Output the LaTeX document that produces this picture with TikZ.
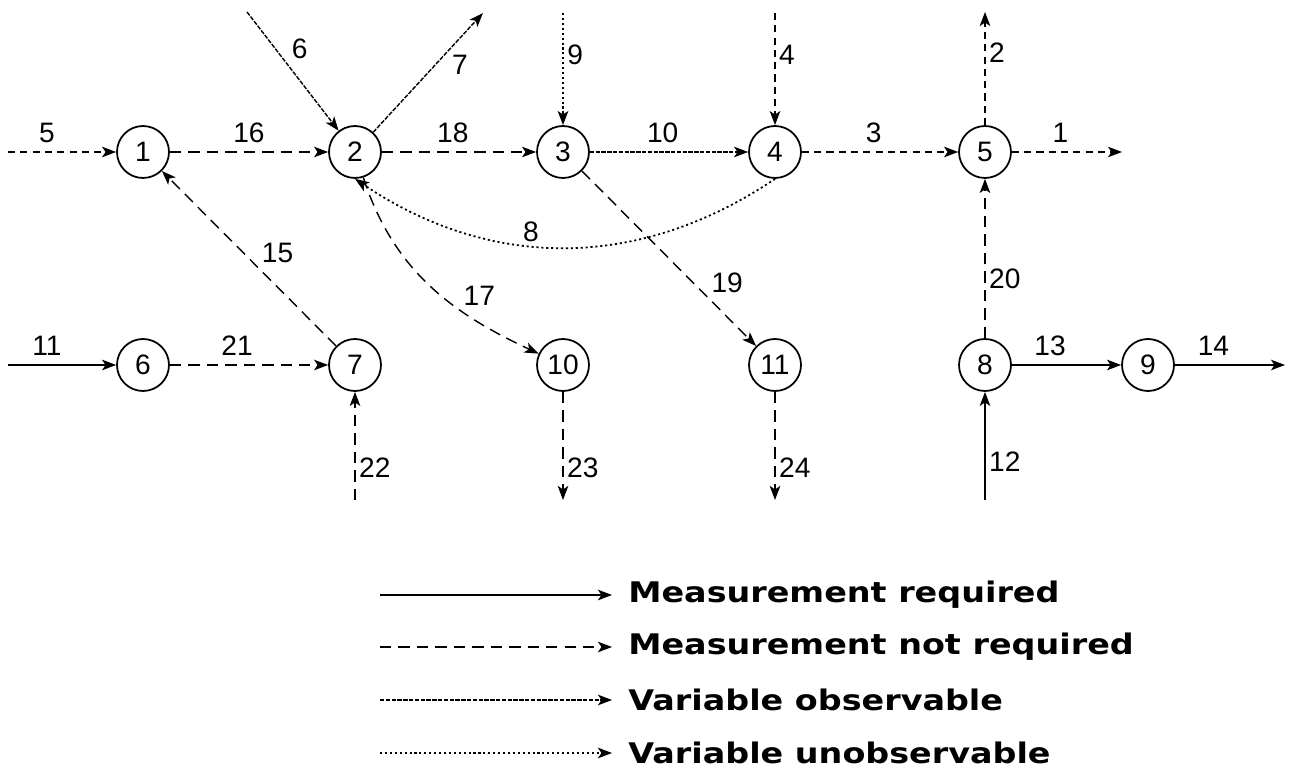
\documentclass[tikz,border=0pt]{standalone}
\usepackage{fontspec}
\setmainfont{Liberation Sans}
\newfontfamily\legendfont{DejaVu Sans}
\usepackage{graphicx}
\usepackage{tikz}
\usetikzlibrary{arrows.meta, positioning}

\begin{document}
\begin{tikzpicture}[
    unit/.style={draw, circle, line width=1pt, minimum size=1.04cm, inner sep=0pt, font=\fontsize{16}{18}\selectfont},
    stream/.style={line width=0.8pt, -{Stealth[length=8pt, width=6pt, inset=2pt]}},
    measreq/.style={stream},
    notreq/.style={stream, dash pattern=on 6.5pt off 4pt},
    notreqs/.style={stream, dash pattern=on 4pt off 3pt},
    obs/.style={stream, dash pattern=on 2.5pt off 0.8pt},
    unobs/.style={stream, line width=1pt, dash pattern=on 1.2pt off 1.6pt},
    lbl/.style={font=\fontsize{16}{18}\selectfont, inner sep=2pt},
    legtext/.style={anchor=west, inner xsep=0.32cm, inner ysep=0pt, font=\legendfont\bfseries\fontsize{19}{21}\selectfont}]

    \useasboundingbox (0,0) rectangle (25.84,15.5);

    % Units
    \node[unit] (u1) at (2.86,12.46) {1};
    \node[unit] (u2) at (7.10,12.46) {2};
    \node[unit] (u3) at (11.26,12.46) {3};
    \node[unit] (u4) at (15.50,12.46) {4};
    \node[unit] (u5) at (19.70,12.46) {5};
    \node[unit] (u6) at (2.86,8.20) {6};
    \node[unit] (u7) at (7.10,8.20) {7};
    \node[unit] (u10) at (11.26,8.20) {10};
    \node[unit] (u11) at (15.50,8.20) {11};
    \node[unit] (u8) at (19.70,8.20) {8};
    \node[unit] (u9) at (22.96,8.20) {9};

    % Free stream ends
    \coordinate (s5) at (0.16,12.46);
    \coordinate (s6) at (4.94,15.26);
    \coordinate (t7) at (9.66,15.24);
    \coordinate (s9) at (11.26,15.24);
    \coordinate (s4) at (15.50,15.24);
    \coordinate (t2) at (19.70,15.26);
    \coordinate (t1) at (22.44,12.46);
    \coordinate (s11) at (0.16,8.20);
    \coordinate (s22) at (7.10,5.50);
    \coordinate (t23) at (11.26,5.50);
    \coordinate (t24) at (15.50,5.50);
    \coordinate (s12) at (19.70,5.50);
    \coordinate (t14) at (25.70,8.20);

    % Streams
    \draw[notreqs] (s5) -- (u1) node[lbl, pos=0.36, above=3pt] {5};
    \draw[notreq] (u1) -- (u2) node[lbl, midway, above=3pt] {16};
    \draw[obs] (s6) -- (u2) node[lbl, pos=0.31, right=7pt] {6};
    \draw[obs] (u2) -- (t7) node[lbl, pos=0.68, below right] {7};
    \draw[notreq] (u2) -- (u3) node[lbl, pos=0.46, above=3pt] {18};
    \draw[unobs] (s9) -- (u3) node[lbl, pos=0.37, right] {9};
    \draw[obs] (u3) -- (u4) node[lbl, pos=0.46, above=3pt] {10};
    \draw[notreqs] (s4) -- (u4) node[lbl, pos=0.37, right] {4};
    \draw[notreqs] (u4) -- (u5) node[lbl, pos=0.46, above=3pt] {3};
    \draw[notreqs] (u5) -- (t2) node[lbl, pos=0.64, right] {2};
    \draw[notreqs] (u5) -- (t1) node[lbl, pos=0.44, above=3pt] {1};
    \draw[unobs] (u4.south) to[bend left=34] node[lbl, pos=0.58, above] {8} (u2.south);
    \draw[notreq] (u7) -- (u1) node[lbl, pos=0.45, above right] {15};
    \draw[notreq] (u2) to[out=-72, in=155] node[lbl, pos=0.66, above right] {17} (u10);
    \draw[notreq] (u3) -- (u11) node[lbl, pos=0.72, above right] {19};
    \draw[measreq] (s11) -- (u6) node[lbl, pos=0.36, above=3pt] {11};
    \draw[notreq] (u6) -- (u7) node[lbl, pos=0.425, above=3pt] {21};
    \draw[notreq] (s22) -- (u7) node[lbl, pos=0.3, right] {22};
    \draw[notreq] (u10) -- (t23) node[lbl, pos=0.7, right] {23};
    \draw[notreq] (u11) -- (t24) node[lbl, pos=0.7, right] {24};
    \draw[notreq] (u8) -- (u5) node[lbl, pos=0.37, right] {20};
    \draw[measreq] (u8) -- (u9) node[lbl, pos=0.35, above=3pt] {13};
    \draw[measreq] (u9) -- (t14) node[lbl, pos=0.35, above=3pt] {14};
    \draw[measreq] (s12) -- (u8) node[lbl, pos=0.35, right] {12};

    % Legend
    \node[legtext] (lg1) at (12.24,3.60) {\scalebox{1}[0.85]{Measurement required}};
    \node[legtext] (lg2) at (12.24,2.56) {\scalebox{1}[0.85]{Measurement not required}};
    \node[legtext] (lg3) at (12.24,1.50) {\scalebox{1}[0.85]{Variable observable}};
    \node[legtext] (lg4) at (12.24,0.44) {\scalebox{1}[0.85]{Variable unobservable}};
    \coordinate (lk1) at (7.60,3.60);
    \coordinate (lk2) at (7.60,2.56);
    \coordinate (lk3) at (7.60,1.50);
    \coordinate (lk4) at (7.60,0.44);
    \draw[measreq] (lk1) -- (lg1.west);
    \draw[notreq] (lk2) -- (lg2.west);
    \draw[obs] (lk3) -- (lg3.west);
    \draw[unobs] (lk4) -- (lg4.west);
\end{tikzpicture}
\end{document}
